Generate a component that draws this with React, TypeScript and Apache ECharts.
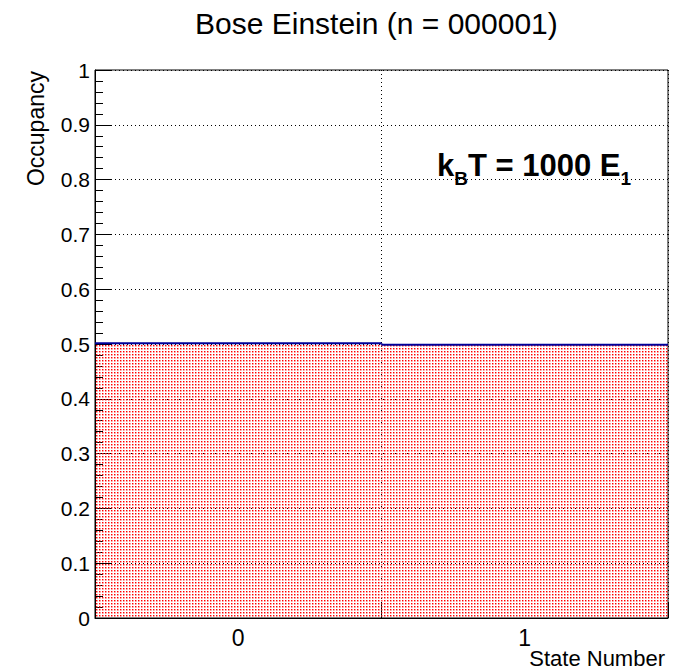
import React, { useEffect, useRef } from "react";
import * as echarts from "echarts";

const stateLabels = ["0", "1"];
const occupancy = [0.5012, 0.4988];
const yTicks = [0, 0.1, 0.2, 0.3, 0.4, 0.5, 0.6, 0.7, 0.8, 0.9, 1];
const titleText = "Bose Einstein (n = 000001)";

function makePattern() {
  const c = document.createElement("canvas");
  c.width = 3;
  c.height = 3;
  const ctx = c.getContext("2d")!;
  ctx.clearRect(0, 0, 3, 3);
  ctx.fillStyle = "rgba(255,0,0,1)";
  ctx.fillRect(0, 0, 1, 1);
  ctx.fillStyle = "rgba(255,40,40,0.5)";
  ctx.fillRect(1, 0, 1, 1);
  ctx.fillRect(0, 1, 1, 1);
  ctx.fillStyle = "rgba(255,60,60,0.3)";
  ctx.fillRect(1, 1, 1, 1);
  return c;
}

export default function App() {
  const ref = useRef<HTMLDivElement>(null);
  useEffect(() => {
    if (!ref.current) return;
    const chart = echarts.init(ref.current, null, { renderer: "svg" });
    const font = "'Liberation Sans', Arial, Helvetica, sans-serif";
    const pattern = makePattern();
    const stepData = occupancy.map((v, i) => [i, v]);
    chart.setOption({
      animation: false,
      backgroundColor: "#ffffff",
      textStyle: { fontFamily: font },
      title: {
        text: titleText,
        left: 190,
        top: 3,
        textStyle: { fontFamily: font, fontSize: 30, fontWeight: "normal", color: "#000" },
      },
      grid: {
        left: 95,
        right: 22,
        top: 70,
        bottom: 52,
        show: true,
        borderColor: "#000",
        borderWidth: 1,
        backgroundColor: "transparent",
      },
      xAxis: {
        type: "category",
        data: stateLabels,
        boundaryGap: true,
        axisLine: { show: true, lineStyle: { color: "#000", width: 1 } },
        axisTick: { show: true, inside: true, length: 15, lineStyle: { color: "#000", width: 1 } },
        axisLabel: { fontFamily: font, fontSize: 23, color: "#000", margin: 8 },
        splitLine: { show: true, lineStyle: { color: "#000", type: [1, 3], width: 1 } },
      },
      yAxis: {
        type: "value",
        min: 0,
        max: 1,
        interval: 0.1,
        axisLine: { show: true, lineStyle: { color: "#000", width: 1 } },
        axisTick: { show: true, inside: true, length: 16, lineStyle: { color: "#000", width: 1 } },
        minorTick: { show: true, splitNumber: 5, length: 8, lineStyle: { color: "#000", width: 1 } },
        axisLabel: {
          fontFamily: font,
          fontSize: 21,
          color: "#000",
          margin: 5,
          formatter: (v: number) => {
            const t = yTicks.find((x) => Math.abs(x - v) < 1e-9);
            const val = t === undefined ? v : t;
            return val === 0 || val === 1 ? String(val) : val.toFixed(1);
          },
        },
        splitLine: { show: true, lineStyle: { color: "#000", type: [1, 3], width: 1 } },
      },
      series: [
        {
          type: "bar",
          data: occupancy,
          barWidth: "100%",
          barCategoryGap: "0%",
          itemStyle: {
            color: { image: pattern, repeat: "repeat", imageWidth: 3, imageHeight: 3 } as any,
            borderWidth: 0,
          },
          z: 1,
        },
        {
          type: "custom",
          data: stepData,
          encode: { x: 0, y: 1 },
          z: 5,
          renderItem: (params: any, api: any) => {
            const i = params.dataIndex;
            const pt = api.coord([api.value(0), api.value(1)]);
            const w = api.size([1, 0])[0];
            const x0 = pt[0] - w / 2;
            const x1 = pt[0] + w / 2;
            const children: any[] = [
              {
                type: "line",
                shape: { x1: x0, y1: pt[1], x2: x1, y2: pt[1] },
                style: { stroke: "#000099", lineWidth: 2 },
              },
            ];
            if (i > 0) {
              const prev = api.coord([stepData[i - 1][0], stepData[i - 1][1]]);
              children.push({
                type: "line",
                shape: { x1: x0, y1: prev[1], x2: x0, y2: pt[1] },
                style: { stroke: "#000099", lineWidth: 2 },
              });
            }
            return { type: "group", children };
          },
        },
      ],
      graphic: [
        {
          type: "text",
          x: 36,
          y: 71,
          rotation: Math.PI / 2,
          style: {
            text: "Occupancy",
            fontFamily: font,
            fontSize: 23,
            fill: "#000",
            align: "right",
            verticalAlign: "middle",
          },
        },
        {
          type: "text",
          x: 665,
          y: 669,
          style: {
            text: "State Number",
            fontFamily: font,
            fontSize: 22,
            fill: "#000",
            align: "right",
            verticalAlign: "bottom",
          },
        },
        {
          type: "text",
          x: 437,
          y: 150,
          z: 10,
          style: {
            text: "{m|k}{s|B}{m|T = 1000 E}{s|1}",
            fontFamily: font,
            rich: {
              m: {
                fontFamily: font,
                fontSize: 31,
                fontWeight: "bold",
                fill: "#000",
                lineHeight: 34,
                verticalAlign: "top",
              },
              s: {
                fontFamily: font,
                fontSize: 19,
                fontWeight: "bold",
                fill: "#000",
                lineHeight: 20,
                padding: [19, 0, 0, 0],
                verticalAlign: "top",
              },
            },
          },
        },
      ],
    });
    return () => chart.dispose();
  }, []);
  return (
    <div
      ref={ref}
      style={{ position: "absolute", left: 0, top: 0, width: 690, height: 670 }}
    />
  );
}
